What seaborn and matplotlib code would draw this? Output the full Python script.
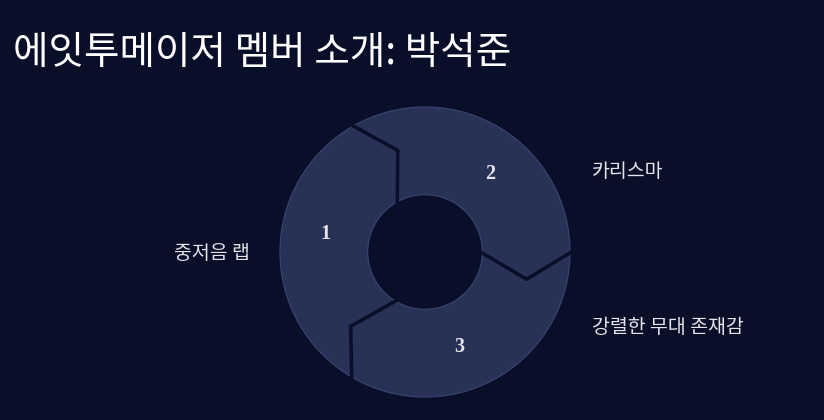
import numpy as np
import seaborn as sns
import matplotlib
matplotlib.use('Agg')
import matplotlib.pyplot as plt
from matplotlib.patches import Polygon

# chart data
steps = ['1', '2', '3']
values = [1, 1, 1]
labels = ['중저음 랩', '카리스마', '강렬한 무대 존재감']
title = '에잇투메이저 멤버 소개: 박석준'

# colours
BG = '#0a0f29'
SEG = '#283256'
EDGE = '#3a4571'
TXT = '#e4e4ea'

sns.set_theme(style='dark', rc={'figure.facecolor': BG, 'axes.facecolor': BG})
plt.rcParams['font.family'] = ['Noto Sans CJK KR', 'DejaVu Sans']

fig = plt.figure(figsize=(8.24, 4.2), dpi=100)
ax = fig.add_axes([0, 0, 1, 1])
# 1 data unit = 145 px, donut centre at (425, 252) px from top-left
ax.set_xlim(-425 / 145, 399 / 145)
ax.set_ylim(-168 / 145, 252 / 145)
ax.axis('off')

r_out, r_in, r_mid = 1.0, 0.395, 0.725
head = 15  # degrees the arrow head pushes clockwise
start = 240


def polar(r, deg):
    t = np.deg2rad(deg)
    return np.column_stack([r * np.cos(t), r * np.sin(t)])


spans = 360 * np.array(values) / np.sum(values)
cum = np.concatenate([[0], np.cumsum(spans)])

# label anchors (x, y, ha)
label_pos = [(-1.207, -0.01, 'right'), (1.152, 0.552, 'left'), (1.152, -0.524, 'left')]

for i, (step, lab) in enumerate(zip(steps, labels)):
    a0 = start - cum[i]
    a1 = a0 - spans[i]
    pts = np.vstack([
        polar(r_out, np.linspace(a0, a1, 80)),
        polar(r_mid, a1 - head),
        polar(r_in, np.linspace(a1, a0, 40)),
        polar(r_mid, a0 - head),
    ])
    ax.add_patch(Polygon(pts, closed=True, facecolor=SEG, edgecolor=EDGE, lw=0.8, zorder=2))

    mid = (a0 + a1) / 2 - 10
    p = polar(0.70, mid)[0]
    ax.text(p[0], p[1], step, color=TXT, fontsize=14.5, fontweight='bold',
            family=['Liberation Serif', 'DejaVu Serif'], ha='center', va='center', zorder=4)

    lx, ly, ha = label_pos[i]
    ax.text(lx, ly, lab, color=TXT, fontsize=14, ha=ha, va='center')

# dark gaps between the arrows
for i in range(len(values)):
    b = start - cum[i + 1]
    g = np.vstack([polar(r_out * 1.01, b), polar(r_mid, b - head), polar(r_in * 0.97, b)])
    ax.plot(g[:, 0], g[:, 1], color=BG, lw=2.6, solid_joinstyle='miter', zorder=3)

fig.text(13 / 824, 1 - 53 / 420, title, color='white', fontsize=27.8, ha='left', va='center')

fig.savefig('out.png', dpi=100, facecolor=BG)
